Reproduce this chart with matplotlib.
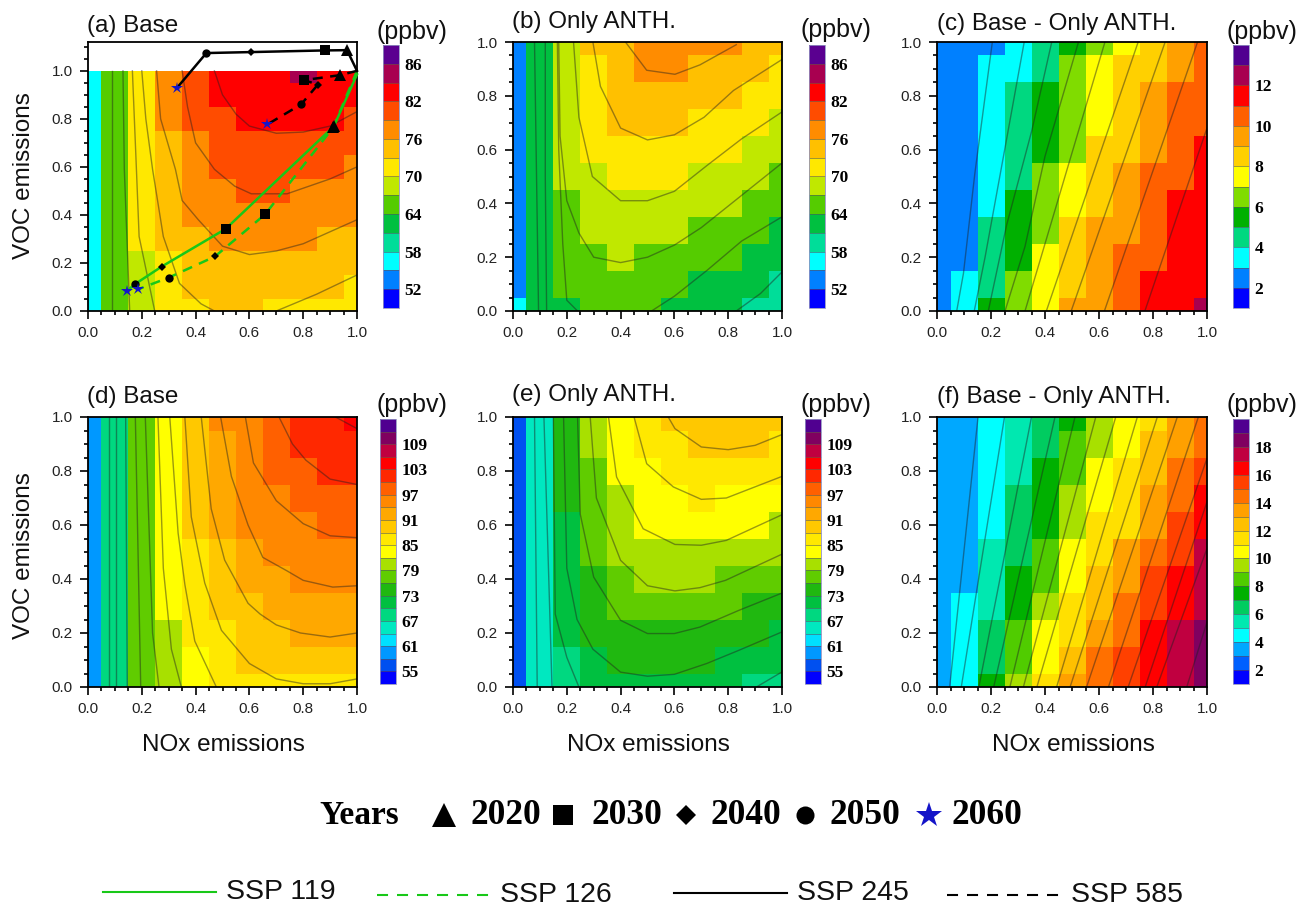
#!/usr/bin/env python3
import matplotlib
matplotlib.use("Agg")
import matplotlib.pyplot as plt
from matplotlib.colors import ListedColormap, BoundaryNorm
from matplotlib.cm import ScalarMappable
from matplotlib.ticker import MultipleLocator
import numpy as np

plt.rcParams['font.family'] = ['Liberation Sans', 'DejaVu Sans']

W, H = 1301, 906

# colour classes, bottom of the colour bar first
colors_a = ['#0000ff', '#0080ff', '#00ffff', '#00dd99', '#00c040', '#55cc00', '#c0e800',
            '#ffe800', '#ffc000', '#ff8c00', '#ff4c00', '#ff0000', '#a80050', '#5a0090']
colors_c = ['#0000ff', '#0080ff', '#00ffff', '#00d880', '#00b000', '#80dc00', '#ffff00',
            '#ffd000', '#ffa000', '#ff6000', '#ff0000', '#a80050', '#500090']
colors_d = ['#0000ff', '#0050f0', '#0098ff', '#00e0ff', '#00e8c0', '#00d880', '#00c040',
            '#20b810', '#60cc00', '#a8e000', '#ffff00', '#ffe800', '#ffc800', '#ffa800',
            '#ff8800', '#ff6000', '#ff2800', '#ff0000', '#c00040', '#800060', '#500090']
colors_f = ['#0000ff', '#0060ff', '#00a8ff', '#00ffff', '#00e8b0', '#00cc60', '#00b000',
            '#50cc00', '#a8e000', '#ffff00', '#ffe000', '#ffc000', '#ffa000', '#ff7000',
            '#ff4000', '#ff0000', '#c00040', '#800060', '#500090']

labels_a = ['52', '58', '64', '70', '76', '82', '86']
labels_c = ['2', '4', '6', '8', '10', '12']
labels_d = ['55', '61', '67', '73', '79', '85', '91', '97', '103', '109']
labels_f = ['2', '4', '6', '8', '10', '12', '14', '16', '18']

# colour class of each grid cell: one list per NOx column, VOC from 1.0 down to 0.0
cells_a = [[2] * 11,
           [5] * 11,
           [7] * 8 + [6] * 3,
           [9] * 3 + [8] * 5 + [7] * 3,
           [10] * 3 + [9] * 4 + [8] * 3 + [7],
           [11] * 2 + [10] * 3 + [9] * 3 + [8] * 3,
           [11] * 3 + [10] * 3 + [9] * 2 + [8] * 3,
           [11] * 3 + [10] * 3 + [9] * 2 + [8] * 2 + [7],
           [12] + [11] * 2 + [10] * 2 + [9] * 3 + [8] * 2 + [7],
           [11] * 3 + [10] * 2 + [9] * 2 + [8] * 3 + [7],
           [11] * 2 + [10] * 2 + [9] * 3 + [8] * 2 + [7] * 2]
cells_b = [[1] * 10 + [2],
           [4] * 11,
           [6] * 6 + [5] * 4 + [4],
           [8] + [7] * 4 + [6] * 3 + [5] * 3,
           [8] * 4 + [7] * 2 + [6] * 3 + [5] * 2,
           [9] * 2 + [8] * 2 + [7] * 2 + [6] * 2 + [5] * 3,
           [9] * 2 + [8] * 2 + [7] * 2 + [6] * 2 + [5] * 2 + [4],
           [9] + [8] * 2 + [7] * 2 + [6] * 2 + [5] * 2 + [4] * 2,
           [9] + [8] * 2 + [7] * 2 + [6] * 2 + [5] * 2 + [4] * 2,
           [8] * 2 + [7] * 2 + [6] * 2 + [5] * 2 + [4] * 2 + [3],
           [8] + [7] * 2 + [6] * 2 + [5] * 2 + [4] * 2 + [3] * 2]
cells_c = [[1] * 11,
           [1] * 9 + [2] * 2,
           [1] + [2] * 6 + [3] * 3 + [4],
           [2] * 2 + [3] * 4 + [4] * 3 + [5] * 2,
           [3] * 2 + [4] * 3 + [5] * 3 + [6] * 3,
           [4] + [5] * 4 + [6] * 2 + [7] * 3 + [8],
           [5] + [6] * 3 + [7] * 3 + [8] * 4,
           [6] + [7] * 4 + [8] * 3 + [9] * 3,
           [7] * 2 + [8] * 3 + [9] * 4 + [10] * 2,
           [8] * 2 + [9] * 4 + [10] * 5,
           [9] * 4 + [10] * 6 + [11]]
cells_d = [[2] * 11,
           [5] * 11,
           [8] * 11,
           [10] * 8 + [9] * 3,
           [12] * 5 + [11] * 4 + [10] * 2,
           [14, 13, 13, 13, 13, 12, 12, 12, 11, 11, 11],
           [14, 14, 14, 14, 14, 13, 13, 12, 12, 12, 11],
           [15, 15, 15, 14, 14, 14, 13, 13, 12, 12, 11],
           [16, 16, 15, 15, 14, 14, 14, 13, 13, 12, 11],
           [16, 16, 16, 15, 15, 14, 14, 13, 13, 12, 11],
           [17, 16, 16, 15, 15, 14, 14, 13, 13, 12, 11]]
cells_e = [[1] * 11,
           [4] * 11,
           [7] * 4 + [6] * 5 + [5] * 2,
           [9] * 2 + [8] * 4 + [7] * 3 + [6] * 2,
           [10] * 3 + [9] * 3 + [8] * 2 + [7] * 2 + [6],
           [11, 11, 10, 10, 10, 9, 9, 8, 7, 7, 6],
           [12, 11, 11, 10, 10, 9, 9, 8, 7, 7, 6],
           [12, 12, 11, 11, 10, 9, 9, 8, 7, 7, 6],
           [12, 12, 11, 10, 10, 9, 8, 8, 7, 6, 6],
           [12, 12, 11, 10, 10, 9, 8, 7, 7, 6, 5],
           [12, 11, 11, 10, 9, 9, 8, 7, 6, 6, 5]]
cells_f = [[2] * 11,
           [2] * 7 + [3] * 4,
           [3] * 5 + [4] * 3 + [5] * 2 + [6],
           [4] * 3 + [5] * 3 + [6] * 2 + [7] * 2 + [8],
           [5] * 2 + [6] * 3 + [7] * 2 + [8] + [9] * 2 + [10],
           [6] + [7] * 2 + [8] * 2 + [9] * 2 + [10] * 2 + [11] + [12],
           [8] * 2 + [9] * 2 + [10] * 2 + [11] * 2 + [12] + [13] * 2,
           [9] * 2 + [10] * 3 + [12] * 2 + [13] * 2 + [14] * 2,
           [10, 11, 11, 12, 12, 13, 14, 14, 15, 15, 15],
           [12, 12, 13, 13, 14, 14, 15, 15, 16, 16, 16],
           [13, 13, 14, 15, 15, 16, 16, 16, 17, 17, 17]]

# contour lines as (NOx, VOC) points
lines_a = [[(.09, 1), (.09, 0)],
           [(.13, 1), (.135, .59), (.155, 0)],
           [(.165, 1), (.18, .59), (.19, .31), (.248, 0)],
           [(.2, 1), (.215, .8), (.24, .59), (.28, .31), (.34, .115), (.42, .03), (.47, 0)],
           [(.255, 1), (.27, .8), (.325, .59), (.35, .46), (.41, .38), (.5, .27), (.6, .235),
            (.7, .25), (.8, .28), (1, .38)],
           [(.35, 1), (.37, .85), (.40, .70), (.47, .59), (.545, .52), (.607, .488), (.74, .488),
            (.9, .55), (1, .6)],
           [(.47, 1), (.5, .9), (.55, .82), (.6, .77), (.7, .74), (.8, .745), (.9, .77), (1, .83)],
           [(.70, 0), (.85, .07), (1, .15)]]
lines_b = [[(.08, 1), (.095, 0)],
           [(.12, 1), (.12, .5), (.125, 0)],
           [(.165, 1), (.17, .6), (.185, .25), (.2, .04), (.24, 0)],
           [(.17, 1), (.175, .65), (.2, .41), (.245, .29), (.3, .2), (.4, .18), (.5, .2), (.6, .245),
            (.7, .31), (.85, .43), (1, .55)],
           [(.225, 1), (.245, .72), (.295, .5), (.4, .41), (.5, .41), (.6, .445), (.72, .54),
            (.85, .64), (1, .74)],
           [(.297, 1), (.325, .835), (.4, .68), (.5, .636), (.6, .655), (.71, .72), (.82, .82), (1, .935)],
           [(.418, 1), (.497, .895), (.602, .88), (.695, .915), (.83, .99)],
           [(.515, 0), (.6, .055), (.72, .15), (.85, .26), (1, .35)],
           [(.83, 0), (.92, .065), (1, .145)]]
lines_c = [[(.073, 0), (.098, .14), (.14, .51), (.205, 1)],
           [(.138, 0), (.178, .2), (.258, .64), (.323, 1)],
           [(.19, 0), (.258, .32), (.351, .67), (.425, 1)],
           [(.252, 0), (.326, .24), (.40, .575), (.524, 1)],
           [(.326, 0), (.622, 1)],
           [(.405, 0), (.745, 1)],
           [(.497, 0), (.845, 1)],
           [(.62, 0), (.965, 1)],
           [(.77, 0), (1, .68)]]
lines_d = [[(.077, 1), (.077, 0)],
           [(.105, 1), (.105, 0)],
           [(.14, 1), (.146, 0)],
           [(.176, 1), (.196, 0)],
           [(.213, 1), (.24, .2), (.264, 0)],
           [(.26, 1), (.28, .44), (.31, .14), (.347, 0)],
           [(.304, 1), (.335, .57), (.36, .38), (.397, .17), (.477, 0)],
           [(.36, 1), (.384, .63), (.434, .385), (.496, .21), (.6, .087), (.7, .03), (.8, .012),
            (.9, .012), (1, .03)],
           [(.421, 1), (.458, .66), (.508, .47), (.595, .31), (.64, .27), (.7, .23), (.79, .2),
            (.9, .185), (1, .2)],
           [(.493, 1), (.533, .78), (.595, .60), (.65, .48), (.74, .43), (.8, .395), (.91, .37), (1, .375)],
           [(.585, 1), (.615, .83), (.7, .69), (.8, .605), (.9, .56), (1, .553)],
           [(.71, 1), (.76, .9), (.81, .84), (.9, .77), (1, .75)],
           [(.92, 1), (1, .957)]]
lines_e = [[(.08, 1), (.09, 0)],
           [(.115, 1), (.145, 0)],
           [(.15, 1), (.157, .27), (.2, .11), (.245, 0)],
           [(.188, 1), (.2, .44), (.238, .25), (.297, .14), (.4, .055), (.5, .04), (.6, .047),
            (.72, .087), (.84, .136), (1, .204)],
           [(.24, 1), (.25, .64), (.3, .407), (.4, .247), (.5, .198), (.6, .198), (.695, .222),
            (.84, .284), (1, .348)],
           [(.287, 1), (.31, .70), (.4, .469), (.5, .375), (.602, .356), (.695, .368), (.79, .395), (1, .492)],
           [(.355, 1), (.385, .778), (.484, .586), (.602, .528), (.7, .525), (.793, .543), (1, .638)],
           [(.45, 1), (.497, .827), (.596, .741), (.7, .695), (.793, .70), (1, .78)],
           [(.577, 1), (.602, .957), (.7, .889), (.8, .879), (.9, .895), (1, .935)],
           [(.905, 0), (1, .056)]]
lines_f = [[(.047, 0), (.152, 1)],
           [(.09, 0), (.25, 1)],
           [(.155, 0), (.35, 1)],
           [(.21, 0), (.437, 1)],
           [(.27, 0), (.511, 1)],
           [(.32, 0), (.588, 1)],
           [(.37, 0), (.662, 1)],
           [(.443, 0), (.742, 1)],
           [(.493, 0), (.816, 1)],
           [(.554, 0), (.89, 1)],
           [(.635, 0), (.968, 1)],
           [(.708, 0), (1, .847)],
           [(.771, 0), (1, .686)],
           [(.814, 0), (1, .513)],
           [(.925, 0), (1, .241)]]

# SSP tracks on panel (a): start point, then 2020, 2030, 2040, 2050, 2060
ssp119_x = [1.0, .914, .512, .274, .176, .144]
ssp119_y = [.985, .769, .342, .185, .113, .083]
ssp126_x = [1.0, .912, .658, .472, .30, .185]
ssp126_y = [1.0, .765, .402, .227, .139, .09]
ssp245_x = [1.0, .963, .882, .605, .44, .33]
ssp245_y = [1.0, 1.086, 1.085, 1.078, 1.074, .928]
ssp585_x = [1.0, .937, .802, .855, .792, .667]
ssp585_y = [1.0, .982, .961, .943, .860, .777]

titles = ['(a) Base', '(b) Only ANTH.', '(c) Base - Only ANTH.',
          '(d) Base', '(e) Only ANTH.', '(f) Base - Only ANTH.']
years = ['2020', '2030', '2040', '2050', '2060']
ssp_names = ['SSP 119', 'SSP 126', 'SSP 245', 'SSP 585']

GREEN = '#18c818'
BLUE = '#1414c8'
SERIF = 'Liberation Serif'

node_edges = np.array([0, .05, .15, .25, .35, .45, .55, .65, .75, .85, .95, 1.0])

fig = plt.figure(figsize=(W / 100, H / 100), dpi=100)


def px_axes(left, top, right, bottom):
    return fig.add_axes([left / W, 1 - bottom / H, (right - left) / W, (bottom - top) / H])


def draw_panel(box, cbar_box, cells, colors, cbar_labels, contour_lines, top=1.0):
    ax = px_axes(*box)
    cmap = ListedColormap(colors)
    norm = BoundaryNorm(np.arange(len(colors) + 1), len(colors))
    grid = np.array(cells).T[::-1]
    ax.pcolormesh(node_edges, node_edges, grid + 0.5, cmap=cmap, norm=norm)
    for pts in contour_lines:
        pts = np.array(pts)
        ax.plot(pts[:, 0], pts[:, 1], color='#202020', lw=1.0, alpha=0.45)
    ax.set_xlim(0, 1)
    ax.set_ylim(0, top)
    ax.set_xticks(np.arange(0, 1.01, .2))
    ax.set_yticks(np.arange(0, 1.01, .2))
    ax.xaxis.set_major_formatter('{x:.1f}')
    ax.yaxis.set_major_formatter('{x:.1f}')
    ax.xaxis.set_minor_locator(MultipleLocator(.05))
    ax.yaxis.set_minor_locator(MultipleLocator(.05))
    ax.tick_params(which='major', length=6, width=1.2, labelsize=11, pad=5, labelcolor='#222222')
    ax.tick_params(which='minor', length=3, width=1.2)
    for s in ax.spines.values():
        s.set_linewidth(1.3)

    cax = px_axes(*cbar_box)
    sm = ScalarMappable(norm=norm, cmap=cmap)
    cb = fig.colorbar(sm, cax=cax, drawedges=True, ticks=np.arange(1, 2 * len(cbar_labels), 2))
    cb.ax.set_yticklabels(cbar_labels, fontfamily=SERIF, fontweight='bold', fontsize=12.5)
    cb.ax.minorticks_off()
    cb.ax.tick_params(length=0, pad=4)
    cb.dividers.set_color('#555555')
    cb.dividers.set_linewidth(0.4)
    cb.outline.set_edgecolor('#9090c0')
    cb.outline.set_linewidth(0.6)
    return ax


boxes = [(88, 42, 357, 311), (513, 42, 782, 311), (937, 42, 1207, 311),
         (88, 417, 357, 687), (513, 417, 782, 687), (937, 417, 1207, 687)]
cbars = [(383, 45, 399, 308), (809, 45, 825, 308), (1233, 45, 1249, 308),
         (380, 419, 396, 684), (805, 419, 821, 684), (1233, 419, 1249, 684)]

ax_a = draw_panel(boxes[0], cbars[0], cells_a, colors_a, labels_a, lines_a, top=1.12)
draw_panel(boxes[1], cbars[1], cells_b, colors_a, labels_a, lines_b)
draw_panel(boxes[2], cbars[2], cells_c, colors_c, labels_c, lines_c)
draw_panel(boxes[3], cbars[3], cells_d, colors_d, labels_d, lines_d)
draw_panel(boxes[4], cbars[4], cells_e, colors_d, labels_d, lines_e)
draw_panel(boxes[5], cbars[5], cells_f, colors_f, labels_f, lines_f)

# scenario tracks with the year markers
year_markers = [('^', 9, 'k'), ('s', 7, 'k'), ('D', 4.5, 'k'), ('o', 6, 'k'), ('*', 9, BLUE)]
for xs, ys, col, dash in [(ssp119_x, ssp119_y, GREEN, None), (ssp126_x, ssp126_y, GREEN, (4, 3)),
                          (ssp245_x, ssp245_y, 'k', None), (ssp585_x, ssp585_y, 'k', (4, 3))]:
    line, = ax_a.plot(xs, ys, color=col, lw=1.8, clip_on=False, zorder=4)
    if dash:
        line.set_dashes(dash)
    for i, (m, size, mc) in enumerate(year_markers):
        ax_a.plot(xs[i + 1], ys[i + 1], marker=m, ms=size, color=mc, mew=0, zorder=5, clip_on=False)

# page level text and the two legends, placed in pixels
over = fig.add_axes([0, 0, 1, 1], facecolor='none')
over.set_xlim(0, W)
over.set_ylim(H, 0)
over.axis('off')

title_pos = [(87, 26), (512, 22), (937, 24), (87, 397), (512, 395), (937, 397)]
for (x, y), t in zip(title_pos, titles):
    over.text(x, y, t, fontsize=17.5, ha='left', va='center', color='#111111')

for x, y in [(377, 32), (801, 30), (1226, 32), (377, 405), (801, 405), (1226, 405)]:
    over.text(x, y, '(ppbv)', fontsize=18, ha='left', va='center', color='#111111')

for y in (176, 556):
    over.text(24, y, 'VOC emissions', fontsize=17.5, rotation=90, ha='center', va='center', color='#111111')
for x in (223, 648, 1073):
    over.text(x, 745, 'NOx emissions', fontsize=17.5, ha='center', va='center', color='#111111')

over.text(359, 815, 'Years', fontfamily=SERIF, fontweight='bold', fontsize=24, ha='center', va='center')
year_x = [506, 627, 746, 865, 987]
key_x = [444, 563, 686, 805, 929]
key_size = [17, 15, 10, 13, 19]
for yr, tx, kx, (m, _, mc), ks in zip(years, year_x, key_x, year_markers, key_size):
    over.plot(kx, 815, marker=m, ms=ks, color=mc, mew=0)
    over.text(tx, 815, yr, fontfamily=SERIF, fontweight='bold', fontsize=25.5, ha='center', va='center')

key_spans = [(103, 216, 226, 892), (377, 490, 500, 895), (674, 787, 797, 893), (947, 1060, 1071, 895)]
key_styles = [(GREEN, None), (GREEN, (5.3, 4.3)), ('k', None), ('k', (5.3, 4.3))]
for name, (x0, x1, tx, y), (col, dash) in zip(ssp_names, key_spans, key_styles):
    line, = over.plot([x0, x1], [y, y], color=col, lw=1.5)
    if dash:
        line.set_dashes(dash)
    over.text(tx, y, name, fontsize=20.5, ha='left', va='center', color='#111111')

fig.savefig('out.png', dpi=100)
